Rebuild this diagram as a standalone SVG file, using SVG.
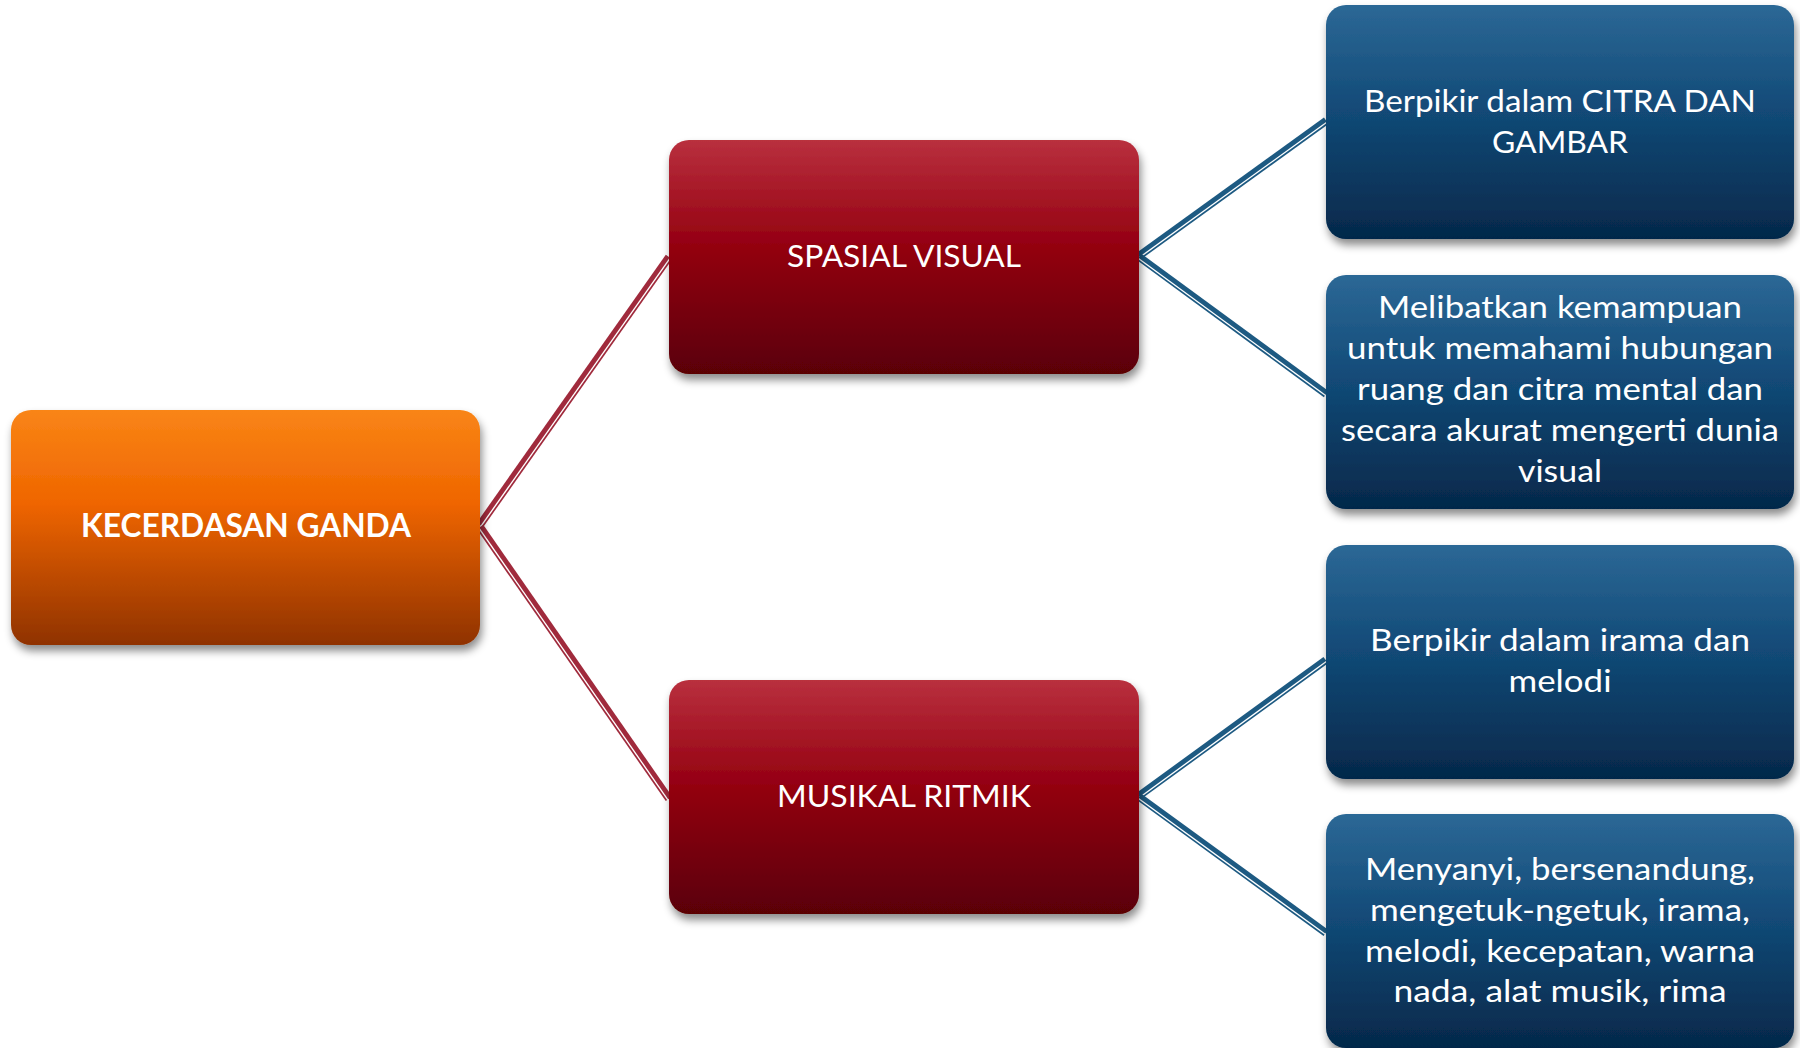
<svg xmlns="http://www.w3.org/2000/svg" width="1800" height="1048" viewBox="0 0 1800 1048">
<defs>
<linearGradient id="gOrange" x1="0" y1="0" x2="0" y2="1">
<stop offset="0" stop-color="#F98516"/>
<stop offset="0.4" stop-color="#EF6500"/>
<stop offset="1" stop-color="#8F3200"/>
</linearGradient>
<linearGradient id="gRed" x1="0" y1="0" x2="0" y2="1">
<stop offset="0" stop-color="#B9303E"/>
<stop offset="0.45" stop-color="#940011"/>
<stop offset="1" stop-color="#5A0006"/>
</linearGradient>
<linearGradient id="gBlue" x1="0" y1="0" x2="0" y2="1">
<stop offset="0" stop-color="#2C6896"/>
<stop offset="0.45" stop-color="#124A77"/>
<stop offset="1" stop-color="#05284A"/>
</linearGradient>
<filter id="shadow" x="-10%" y="-10%" width="125%" height="130%">
<feDropShadow dx="2" dy="6" stdDeviation="4" flood-color="#000" flood-opacity="0.45"/>
</filter>
</defs>
<style>
.lbl{font-family:Lato,"Open Sans","Liberation Sans",sans-serif;fill:#FFFFFF;text-anchor:middle;font-size:30px;}
.bold{font-weight:bold;font-size:32px;}
.red line{stroke:#A02A3C;}
.blue line{stroke:#1D5A82;}
.thick{stroke-width:4.8;}
.thin{stroke-width:1.7;}
.box{filter:url(#shadow);}
</style>
<rect width="1800" height="1048" fill="#FFFFFF"/>
<g id="connectors" fill="none">
<g class="red">
<g transform="translate(480,525) rotate(-54.8)"><line class="thick" x1="0" y1="-1.6" x2="328" y2="-1.6"/><line class="thin" x1="0" y1="3.0" x2="328" y2="3.0"/></g>
<g transform="translate(480,527) rotate(55.2)"><line class="thick" x1="0" y1="-1.6" x2="331" y2="-1.6"/><line class="thin" x1="0" y1="3.0" x2="331" y2="3.0"/></g>
</g>
<g class="blue">
<g transform="translate(1139,256) rotate(-35.83)"><line class="thick" x1="0" y1="-1.6" x2="231" y2="-1.6"/><line class="thin" x1="0" y1="3.0" x2="231" y2="3.0"/></g>
<g transform="translate(1139,257) rotate(36.23)"><line class="thick" x1="0" y1="-1.6" x2="232" y2="-1.6"/><line class="thin" x1="0" y1="3.0" x2="232" y2="3.0"/></g>
<g transform="translate(1139,796) rotate(-36.03)"><line class="thick" x1="0" y1="-1.6" x2="231" y2="-1.6"/><line class="thin" x1="0" y1="3.0" x2="231" y2="3.0"/></g>
<g transform="translate(1139,797) rotate(36.03)"><line class="thick" x1="0" y1="-1.6" x2="231" y2="-1.6"/><line class="thin" x1="0" y1="3.0" x2="231" y2="3.0"/></g>
</g>
</g>
<g id="node-root">
<rect class="box" x="11" y="410" width="469" height="235" rx="20" fill="url(#gOrange)"/>
<text class="lbl bold" x="246" y="537" textLength="330" lengthAdjust="spacingAndGlyphs">KECERDASAN GANDA</text>
</g>
<g id="node-spasial">
<rect class="box" x="669" y="140" width="470" height="234" rx="20" fill="url(#gRed)"/>
<text class="lbl" x="904" y="267" textLength="234" lengthAdjust="spacingAndGlyphs">SPASIAL VISUAL</text>
</g>
<g id="node-musikal">
<rect class="box" x="669" y="680" width="470" height="234" rx="20" fill="url(#gRed)"/>
<text class="lbl" x="904" y="807" textLength="254" lengthAdjust="spacingAndGlyphs">MUSIKAL RITMIK</text>
</g>
<g id="node-citra">
<rect class="box" x="1326" y="5" width="468" height="234" rx="20" fill="url(#gBlue)"/>
<text class="lbl" x="1560" y="112" textLength="392" lengthAdjust="spacingAndGlyphs">Berpikir dalam CITRA DAN</text>
<text class="lbl" x="1560" y="153" textLength="136" lengthAdjust="spacingAndGlyphs">GAMBAR</text>
</g>
<g id="node-ruang">
<rect class="box" x="1326" y="275" width="468" height="234" rx="20" fill="url(#gBlue)"/>
<text class="lbl" x="1560" y="318" textLength="364" lengthAdjust="spacingAndGlyphs">Melibatkan kemampuan</text>
<text class="lbl" x="1560" y="359" textLength="426" lengthAdjust="spacingAndGlyphs">untuk memahami hubungan</text>
<text class="lbl" x="1560" y="400" textLength="406" lengthAdjust="spacingAndGlyphs">ruang dan citra mental dan</text>
<text class="lbl" x="1560" y="441" textLength="438" lengthAdjust="spacingAndGlyphs">secara akurat mengerti dunia</text>
<text class="lbl" x="1560" y="482" textLength="84" lengthAdjust="spacingAndGlyphs">visual</text>
</g>
<g id="node-irama">
<rect class="box" x="1326" y="545" width="468" height="234" rx="20" fill="url(#gBlue)"/>
<text class="lbl" x="1560" y="651" textLength="380" lengthAdjust="spacingAndGlyphs">Berpikir dalam irama dan</text>
<text class="lbl" x="1560" y="692" textLength="103" lengthAdjust="spacingAndGlyphs">melodi</text>
</g>
<g id="node-menyanyi">
<rect class="box" x="1326" y="814" width="468" height="234" rx="20" fill="url(#gBlue)"/>
<text class="lbl" x="1560" y="880" textLength="390" lengthAdjust="spacingAndGlyphs">Menyanyi, bersenandung,</text>
<text class="lbl" x="1560" y="921" textLength="380" lengthAdjust="spacingAndGlyphs">mengetuk-ngetuk, irama,</text>
<text class="lbl" x="1560" y="962" textLength="390" lengthAdjust="spacingAndGlyphs">melodi, kecepatan, warna</text>
<text class="lbl" x="1560" y="1002" textLength="333" lengthAdjust="spacingAndGlyphs">nada, alat musik, rima</text>
</g>
</svg>
